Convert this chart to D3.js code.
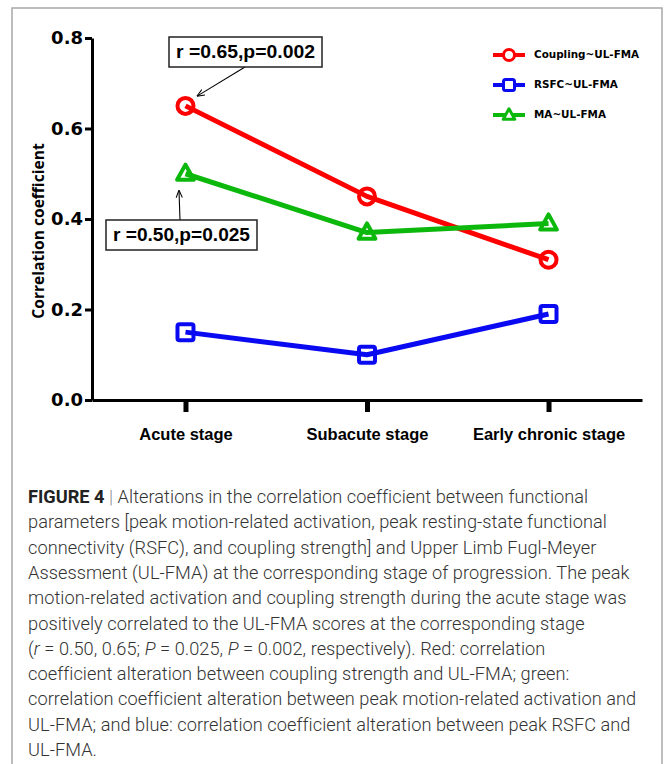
<!DOCTYPE html>
<html>
<head>
<meta charset="utf-8">
<script src="https://cdn.jsdelivr.net/npm/d3@7"></script>
<style>
  html, body { margin: 0; padding: 0; background: #fff; }
  svg { display: block; }
</style>
</head>
<body>
<svg id="chart" width="666" height="764"></svg>
<script>
// chart data
const stages = ['Acute stage', 'Subacute stage', 'Early chronic stage'];
const couplingValues = [0.65, 0.45, 0.31];
const rsfcValues = [0.15, 0.10, 0.19];
const maValues = [0.50, 0.37, 0.39];
const seriesNames = ['Coupling~UL-FMA', 'RSFC~UL-FMA', 'MA~UL-FMA'];
const yTicks = [0, 0.2, 0.4, 0.6, 0.8];

const captionLines = [
  [{ t: 'FIGURE 4', b: true }, { t: ' | ', g: true }, { t: 'Alterations in the correlation coefficient between functional' }],
  [{ t: 'parameters [peak motion-related activation, peak resting-state functional' }],
  [{ t: 'connectivity (RSFC), and coupling strength] and Upper Limb Fugl-Meyer' }],
  [{ t: 'Assessment (UL-FMA) at the corresponding stage of progression. The peak' }],
  [{ t: 'motion-related activation and coupling strength during the acute stage was' }],
  [{ t: 'positively correlated to the UL-FMA scores at the corresponding stage' }],
  [{ t: '(' }, { t: 'r', i: true }, { t: ' = 0.50, 0.65; ' }, { t: 'P', i: true }, { t: ' = 0.025, ' }, { t: 'P', i: true }, { t: ' = 0.002, respectively). Red: correlation' }],
  [{ t: 'coefficient alteration between coupling strength and UL-FMA; green:' }],
  [{ t: 'correlation coefficient alteration between peak motion-related activation and' }],
  [{ t: 'UL-FMA; and blue: correlation coefficient alteration between peak RSFC and' }],
  [{ t: 'UL-FMA.' }]
];

const svg = d3.select('#chart');

// outer panel border
svg.append('rect')
  .attr('x', 12).attr('y', 8)
  .attr('width', 650).attr('height', 800)
  .attr('fill', 'none')
  .attr('stroke', '#a8a8a8')
  .attr('stroke-width', 1.5);

// scales
const x = d3.scalePoint()
  .domain(stages)
  .range([92, 642])
  .padding(0.515);

const y = d3.scaleLinear()
  .domain([0, 0.8])
  .range([400, 38]);

const series = [
  { name: seriesNames[0], values: couplingValues, color: '#fe0000', shape: 'circle' },
  { name: seriesNames[1], values: rsfcValues, color: '#0a0af2', shape: 'square' },
  { name: seriesNames[2], values: maValues, color: '#0cb80c', shape: 'triangle' }
];

// y axis
const yAxis = svg.append('g')
  .attr('transform', 'translate(92,0)')
  .call(d3.axisLeft(y).tickValues(yTicks).tickFormat(d3.format('.1f')).tickSize(7).tickSizeOuter(0).tickPadding(2));
yAxis.select('.domain').attr('stroke-width', 3).attr('stroke', '#000');
yAxis.selectAll('.tick line').attr('stroke-width', 3).attr('stroke', '#000');
yAxis.selectAll('.tick text')
  .attr('font-family', 'DejaVu Sans')
  .attr('font-weight', 'bold')
  .attr('font-size', 18)
  .attr('fill', '#000');

// x axis
const xAxis = svg.append('g')
  .attr('transform', 'translate(0,400)')
  .call(d3.axisBottom(x).tickSize(12).tickSizeOuter(0).tickPadding(16));
xAxis.select('.domain').attr('stroke-width', 3).attr('stroke', '#000');
xAxis.selectAll('.tick line').attr('stroke-width', 5).attr('stroke', '#000');
xAxis.selectAll('.tick text')
  .attr('font-family', 'Liberation Sans')
  .attr('font-weight', 'bold')
  .attr('font-size', 16.5)
  .attr('fill', '#000');

// y axis title
svg.append('text')
  .attr('transform', `translate(44,${y(0.4) + 12}) rotate(-90)`)
  .attr('text-anchor', 'middle')
  .attr('font-family', 'Open Sans')
  .attr('font-weight', 'bold')
  .attr('font-size', 15.6)
  .text('Correlation coefficient');

// marker drawing helper
function drawMarker(g, shape, color, size, sw) {
  if (shape === 'circle') {
    g.append('circle').attr('r', size).attr('fill', '#fff').attr('stroke', color).attr('stroke-width', sw);
  } else if (shape === 'square') {
    g.append('rect').attr('x', -size).attr('y', -size).attr('width', size * 2).attr('height', size * 2)
      .attr('rx', 2).attr('fill', '#fff').attr('stroke', color).attr('stroke-width', sw);
  } else {
    const h = size * 1.9;
    g.append('path')
      .attr('d', `M0,${-h * 0.6}L${size * 1.05},${h * 0.4}L${-size * 1.05},${h * 0.4}Z`)
      .attr('fill', '#fff').attr('stroke', color).attr('stroke-width', sw).attr('stroke-linejoin', 'round');
  }
}

const line = d3.line()
  .x((d, i) => x(stages[i]))
  .y(d => y(d));

// series lines and markers
series.forEach(s => {
  const grp = svg.append('g');
  s.values.forEach((v, i) => {
    const m = grp.append('g').attr('transform', `translate(${x(stages[i])},${y(v)})`);
    drawMarker(m, s.shape, s.color, 8, 4);
  });
  grp.append('path')
    .datum(s.values)
    .attr('d', line)
    .attr('fill', 'none')
    .attr('stroke', s.color)
    .attr('stroke-width', 5)
    .attr('stroke-linejoin', 'round');
});

// legend
const legend = svg.append('g');
series.forEach((s, i) => {
  const ly = 55 + i * 30;
  legend.append('line')
    .attr('x1', 493).attr('x2', 525).attr('y1', ly).attr('y2', ly)
    .attr('stroke', s.color).attr('stroke-width', 4);
  const m = legend.append('g').attr('transform', `translate(509,${ly})`);
  drawMarker(m, s.shape, s.color, 5.5, 3);
  legend.append('text')
    .attr('x', 534).attr('y', ly + 2)
    .attr('font-family', 'DejaVu Sans')
    .attr('font-weight', 'bold')
    .attr('font-size', 10.4)
    .attr('dy', '0.1em')
    .text(s.name);
});

// annotations
svg.append('defs').append('marker')
  .attr('id', 'arrow')
  .attr('viewBox', '0 0 10 10')
  .attr('refX', 9).attr('refY', 5)
  .attr('markerWidth', 7).attr('markerHeight', 7)
  .attr('orient', 'auto')
  .append('path')
  .attr('d', 'M0,1L10,5L0,9')
  .attr('fill', 'none')
  .attr('stroke', '#000')
  .attr('stroke-width', 1.3);

function annotate(label, bx, by, bw, bh, x1, y1, x2, y2) {
  svg.append('line')
    .attr('x1', x1).attr('y1', y1).attr('x2', x2).attr('y2', y2)
    .attr('stroke', '#000').attr('stroke-width', 1.1)
    .attr('marker-end', 'url(#arrow)');
  svg.append('rect')
    .attr('x', bx).attr('y', by).attr('width', bw).attr('height', bh)
    .attr('fill', '#fff').attr('stroke', '#222').attr('stroke-width', 1.5);
  svg.append('text')
    .attr('x', bx + bw / 2).attr('y', by + bh / 2 + 6)
    .attr('text-anchor', 'middle')
    .attr('font-family', 'Liberation Sans')
    .attr('font-weight', 'bold')
    .attr('font-size', 18)
    .attr('textLength', bw - 14)
    .attr('lengthAdjust', 'spacingAndGlyphs')
    .text(label);
}

annotate('r =0.65,p=0.002', 169, 37, 153, 30, 245, 67, x(stages[0]) + 12, y(couplingValues[0]) - 10);
annotate('r =0.50,p=0.025', 106, 220, 151, 30, 180, 220, 179, y(maValues[0]) + 17);

// caption
const cap = svg.append('text')
  .attr('font-family', 'Roboto')
  .attr('font-size', 18.2)
  .attr('font-weight', 300)
  .attr('letter-spacing', 0.05)
  .attr('fill', '#333');
captionLines.forEach((ln, i) => {
  const t = cap.append('tspan').attr('x', 28).attr('y', 503 + i * 25.3);
  ln.forEach(seg => {
    const sp = t.append('tspan').text(seg.t);
    if (seg.b) sp.attr('font-weight', 'bold').attr('fill', '#222').attr('letter-spacing', 0);
    if (seg.i) sp.attr('font-style', 'italic');
    if (seg.g) sp.attr('fill', '#888');
  });
});
</script>
</body>
</html>
